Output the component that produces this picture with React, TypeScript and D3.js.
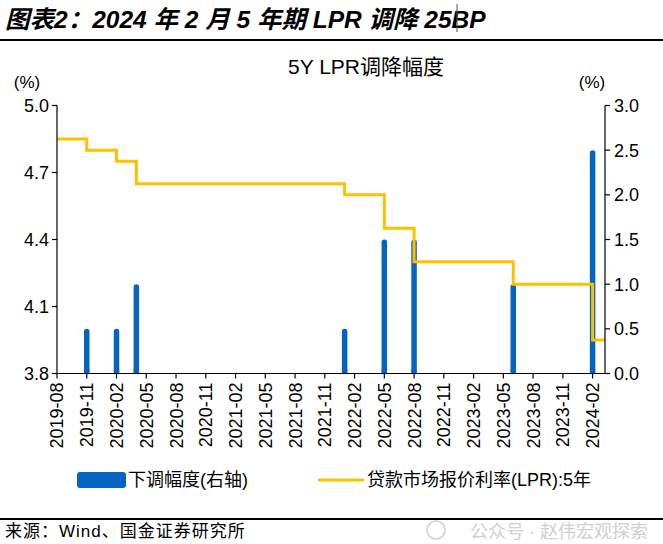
import React from "react";
import * as d3 from "d3";

// ---- data ----
const monthStart = "2019-08";
const tickLabels = [
  "2019-08", "2019-11", "2020-02", "2020-05", "2020-08", "2020-11",
  "2021-02", "2021-05", "2021-08", "2021-11", "2022-02", "2022-05",
  "2022-08", "2022-11", "2023-02", "2023-05", "2023-08", "2023-11", "2024-02",
];
// 5Y LPR step points (value from this month on)
const lprMonths = ["2019-08", "2019-11", "2020-02", "2020-04", "2022-01", "2022-05", "2022-08", "2023-06", "2024-02", "2024-03"];
const lprValues = [4.85, 4.80, 4.75, 4.65, 4.60, 4.45, 4.30, 4.20, 3.95, 3.95];
// cut size (right axis)
const cutMonths = ["2019-11", "2020-02", "2020-04", "2022-01", "2022-05", "2022-08", "2023-06", "2024-02"];
const cutValues = [0.5, 0.5, 1.0, 0.5, 1.5, 1.5, 1.0, 2.5];
const leftTicks = [3.8, 4.1, 4.4, 4.7, 5.0];
const rightTicks = [0, 0.5, 1.0, 1.5, 2.0, 2.5, 3.0];

const W = 663, H = 544;
const BLUE = "#0563C1";
const GOLD = "#FFC000";
const LAT = "'Liberation Sans', Arial, 'Noto Sans CJK SC', sans-serif";

function mIdx(s: string) {
  const [y, m] = s.split("-").map(Number);
  const [y0, m0] = monthStart.split("-").map(Number);
  return (y - y0) * 12 + (m - m0);
}

export default function App() {
  const L = 57, R = 605, T = 105.5, B = 373.5;
  const x = d3.scaleLinear().domain([0, 55.25]).range([L, R]);
  const yL = d3.scaleLinear().domain([3.8, 5.0]).range([B, T]);
  const yR = d3.scaleLinear().domain([0, 3]).range([B, T]);

  const pts: [number, number][] = lprMonths.map((m, i) => [
    i === lprMonths.length - 1 ? x(55.25) : x(mIdx(m)),
    yL(lprValues[i]),
  ]);
  const linePath = d3.line().curve(d3.curveStepAfter)(pts) || "";

  return (
    <svg width={W} height={H} style={{ position: "absolute", left: 0, top: 0, background: "#fff" }}>
      <rect width={W} height={H} fill="#fff" />
      {/* header */}
      <text x={5} y={28} fontFamily={LAT} fontSize={24.5} fontWeight="bold" fontStyle="italic" fill="#000">
        图表2：2024 年 2 月 5 年期 LPR 调降 25BP
      </text>
      <line x1={457} x2={457} y1={4} y2={32} stroke="#555" strokeWidth={1} />
      <line x1={0} x2={W} y1={40} y2={40} stroke="#000" strokeWidth={2} />

      {/* chart title */}
      <text x={366} y={74} textAnchor="middle" fontFamily={LAT} fontSize={21} fill="#000">5Y LPR调降幅度</text>
      <text x={27} y={88} textAnchor="middle" fontFamily={LAT} fontSize={17} fill="#000">(%)</text>
      <text x={592} y={88} textAnchor="middle" fontFamily={LAT} fontSize={17} fill="#000">(%)</text>

      {/* bars */}
      {cutMonths.map((m, i) => {
        const cx = x(mIdx(m));
        const top = yR(cutValues[i]);
        return <rect key={m} x={cx - 2.75} y={top} width={5.5} height={B - top} rx={2.75} fill={BLUE} />;
      })}
      {cutMonths.map((m) => (
        <rect key={"b" + m} x={x(mIdx(m)) - 2.75} y={B - 4} width={5.5} height={4} fill={BLUE} />
      ))}

      {/* line */}
      <path d={linePath} fill="none" stroke={GOLD} strokeWidth={3} />

      {/* axes */}
      <line x1={L} x2={L} y1={T} y2={B} stroke="#000" strokeWidth={1.2} />
      <line x1={R} x2={R} y1={T} y2={B} stroke="#000" strokeWidth={1.2} />
      <line x1={L} x2={R} y1={B} y2={B} stroke="#000" strokeWidth={1.2} />
      {leftTicks.map((v) => (
        <g key={"l" + v}>
          <line x1={L - 5} x2={L} y1={yL(v)} y2={yL(v)} stroke="#000" strokeWidth={1.2} />
          <text x={L - 8} y={yL(v)} dy="0.36em" textAnchor="end" fontFamily={LAT} fontSize={18} fill="#000">
            {v.toFixed(1)}
          </text>
        </g>
      ))}
      {rightTicks.map((v) => (
        <g key={"r" + v}>
          <line x1={R} x2={R + 5} y1={yR(v)} y2={yR(v)} stroke="#000" strokeWidth={1.2} />
          <text x={R + 9} y={yR(v)} dy="0.36em" textAnchor="start" fontFamily={LAT} fontSize={18} fill="#000">
            {v.toFixed(1)}
          </text>
        </g>
      ))}
      {tickLabels.map((t) => {
        const tx = x(mIdx(t));
        return (
          <g key={t}>
            <line x1={tx} x2={tx} y1={B} y2={B + 5} stroke="#000" strokeWidth={1.2} />
            <text
              transform={`translate(${tx},${B + 9}) rotate(-90)`}
              dy="0.36em"
              textAnchor="end"
              fontFamily={LAT}
              fontSize={18}
              fill="#000"
            >
              {t}
            </text>
          </g>
        );
      })}

      {/* legend */}
      <rect x={77} y={472} width={49} height={16} rx={3} fill={BLUE} />
      <text x={128} y={486} fontFamily={LAT} fontSize={18} fill="#000">下调幅度(右轴)</text>
      <line x1={318} x2={364} y1={480} y2={480} stroke={GOLD} strokeWidth={3} />
      <text x={367} y={486} fontFamily={LAT} fontSize={18} fill="#000">贷款市场报价利率(LPR):5年</text>

      {/* footer */}
      <line x1={0} x2={W} y1={519} y2={519} stroke="#000" strokeWidth={2} />
      <text x={5} y={537} fontFamily={LAT} fontSize={17} letterSpacing={1} fill="#000">来源：Wind、国金证券研究所</text>
      <circle cx={436} cy={530} r={9} fill="none" stroke="#d0d0d0" strokeWidth={1.5} />
      <text x={648} y={538} textAnchor="end" fontFamily={LAT} fontSize={18} fill="#c8c8c8" opacity={0.85}>公众号 · 赵伟宏观探索</text>
    </svg>
  );
}
